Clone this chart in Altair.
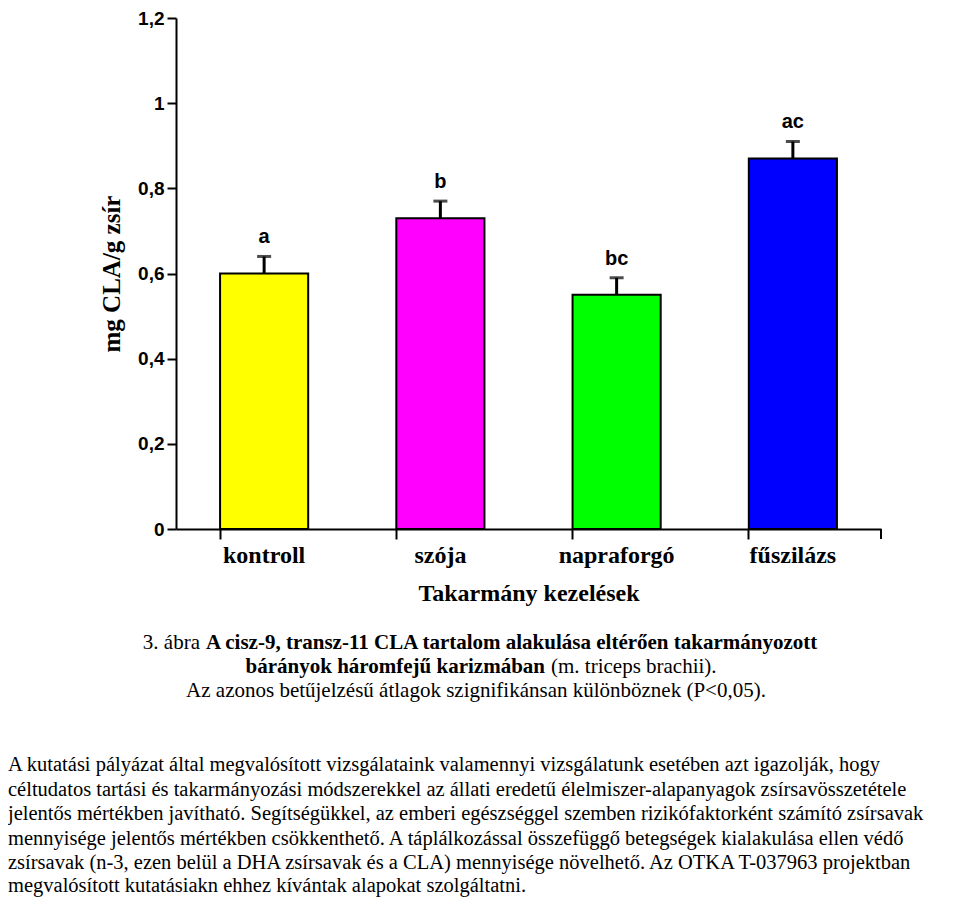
import altair as alt
import pandas as pd

# ---- data ----
categories = ["kontroll", "szója", "napraforgó", "fűszilázs"]
means = [0.60, 0.73, 0.55, 0.87]
errors = [0.04, 0.04, 0.04, 0.04]
letters = ["a", "b", "bc", "ac"]
bar_colors = ["#ffff00", "#ff00ff", "#00ff00", "#0000ff"]
y_ticks = [0, 0.2, 0.4, 0.6, 0.8, 1.0, 1.2]

y_title = "mg CLA/g zsír"
x_title = "Takarmány kezelések"

caption_1a = "3. ábra"
caption_1b = "A cisz-9, transz-11 CLA tartalom alakulása eltérően takarmányozott"
caption_2a = "bárányok háromfejű karizmában"
caption_2b = "(m. triceps brachii)."
caption_3 = "Az azonos betűjelzésű átlagok szignifikánsan különböznek (P<0,05)."

paragraph = [
    "A kutatási pályázat által megvalósított vizsgálataink valamennyi vizsgálatunk esetében azt igazolják, hogy",
    "céltudatos tartási és takarmányozási módszerekkel az állati eredetű élelmiszer-alapanyagok zsírsavösszetétele",
    "jelentős mértékben javítható. Segítségükkel, az emberi egészséggel szemben rizikófaktorként számító zsírsavak",
    "mennyisége jelentős mértékben csökkenthető. A táplálkozással összefüggő betegségek kialakulása ellen védő",
    "zsírsavak (n-3, ezen belül a DHA  zsírsavak és a CLA) mennyisége növelhető. Az OTKA T-037963 projektban",
    "megvalósított kutatásiakn ehhez kívántak alapokat szolgáltatni.",
]

df = pd.DataFrame({
    "cat": categories,
    "mean": means,
    "hi": [m + e for m, e in zip(means, errors)],
    "letter": letters,
})

W, H = 705, 511
TOP = 10

xenc = alt.X(
    "cat:N", sort=categories,
    scale=alt.Scale(paddingInner=0.5, paddingOuter=0.25),
    axis=alt.Axis(
        title=x_title, bandPosition=0, labelAngle=0,
        labelFont="Liberation Serif", labelFontWeight="bold", labelFontSize=24,
        labelColor="black", labelBaseline="middle", labelPadding=16,
        tickSize=10, tickWidth=2, tickColor="black",
        domainColor="black", domainWidth=2,
        titleFont="Liberation Serif", titleFontWeight="bold", titleFontSize=24,
        titleColor="black", titleBaseline="middle", titleY=64,
    ),
)

yscale = alt.Scale(domain=[0, 1.2], nice=False)
yaxis = alt.Axis(
    title=y_title, values=y_ticks, grid=False,
    labelExpr="replace(format(datum.value, '.1~f'), '.', ',')",
    labelFont="Liberation Sans", labelFontWeight="bold", labelFontSize=19,
    labelColor="black", labelPadding=3,
    tickSize=9, tickWidth=2, tickColor="black",
    domainColor="black", domainWidth=2,
    titleFont="Liberation Serif", titleFontWeight="bold", titleFontSize=25,
    titleColor="black", titleX=-65, titleY=H / 2, titleBaseline="middle",
    titleAlign="center",
)

base = alt.Chart(df)

bars = base.mark_bar(stroke="black", strokeWidth=2).encode(
    x=xenc,
    y=alt.Y("mean:Q", scale=yscale, axis=yaxis),
    color=alt.Color("cat:N", sort=categories,
                    scale=alt.Scale(domain=categories, range=bar_colors),
                    legend=None),
)

stems = base.mark_rule(color="black", strokeWidth=3).encode(
    x=alt.X("cat:N", sort=categories), y="mean:Q", y2="hi:Q"
)
caps = base.mark_tick(color="black", thickness=3, size=14, orient="horizontal").encode(
    x=alt.X("cat:N", sort=categories), y="hi:Q"
)
labels = base.mark_text(
    font="Liberation Sans", fontWeight="bold", fontSize=20, color="black",
    baseline="alphabetic", dy=-13,
).encode(x=alt.X("cat:N", sort=categories), y="hi:Q", text="letter:N")

end_tick = alt.Chart(pd.DataFrame({"k": [0]})).mark_rule(color="black", strokeWidth=2).encode(
    x=alt.value(W), y=alt.value(H), y2=alt.value(H + 10)
)


def txt(s, x, y, align="center", weight="normal", size=21):
    return alt.Chart(pd.DataFrame({"t": [s]})).mark_text(
        font="Liberation Serif", fontSize=size, fontWeight=weight,
        align=align, baseline="middle", color="black",
    ).encode(text="t:N", x=alt.value(x), y=alt.value(y))


texts = [
    txt(caption_1a, 24, 625, align="right"),
    txt(caption_1b, 30, 625, align="left", weight="bold"),
    txt(caption_2a, 369, 649, align="right", weight="bold"),
    txt(caption_2b, 375, 649, align="left"),
    txt(caption_3, 300, 673),
]
py = [747, 771.5, 796, 820.5, 845, 868]
for line, yy in zip(paragraph, py):
    texts.append(txt(line, -168, yy, align="left", size=20.5))

chart = alt.layer(bars, stems, caps, labels, end_tick, *texts).properties(
    width=W, height=H,
    padding={"left": 168, "top": TOP, "right": 70, "bottom": 372},
    autosize=alt.AutoSizeParams(type="none"),
).configure_view(stroke=None)

chart.save("out.html", embed_options={"renderer": "svg", "actions": False})
